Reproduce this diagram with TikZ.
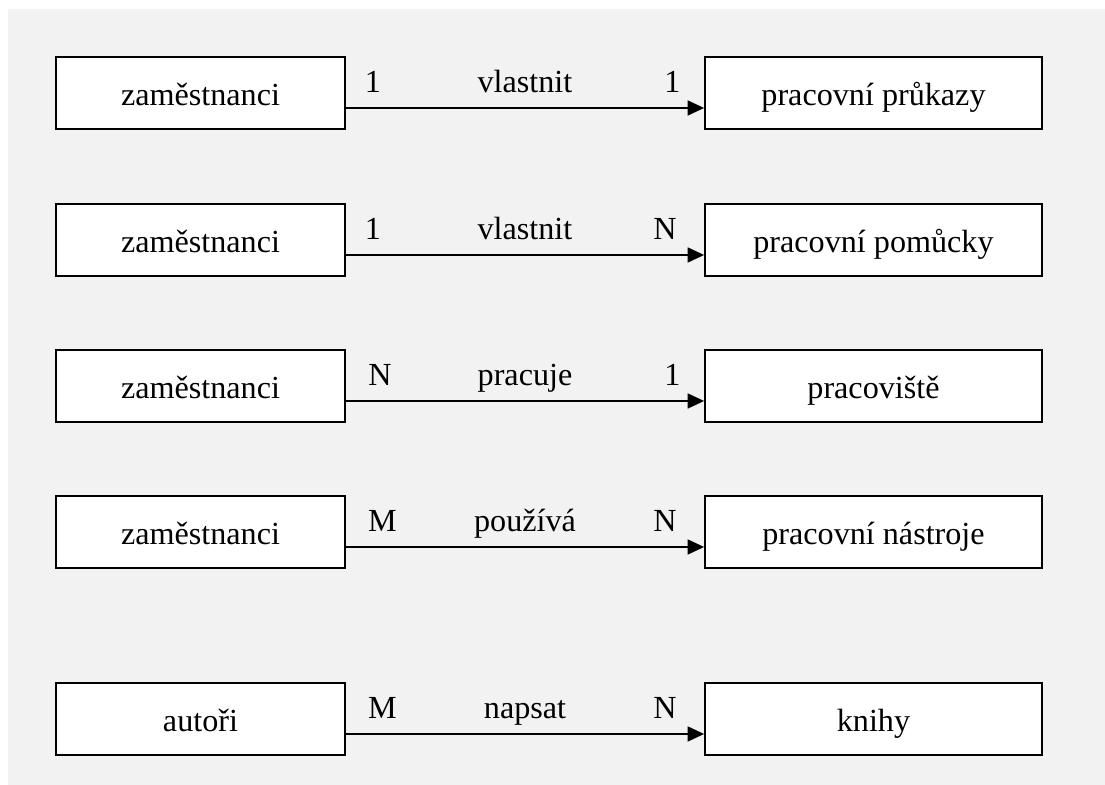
\documentclass[tikz,border=0pt]{standalone}
\usepackage{fontspec}
\setmainfont{Liberation Serif}
\usetikzlibrary{arrows.meta}
\definecolor{bggray}{HTML}{F2F2F2}
\tikzset{
  entity/.style={draw=black, line width=1pt, fill=white, minimum height=1.44cm, inner sep=0pt, text height=0.5cm, text depth=0cm, font=\fontsize{18.3}{22}\selectfont},
  leftbox/.style={entity, minimum width=5.78cm},
  rightbox/.style={entity, minimum width=6.74cm},
  card/.style={anchor=base, inner sep=0pt, font=\fontsize{18.3}{22}\selectfont},
  rel/.style={line width=1pt, -{Triangle[length=0.33cm,width=0.3cm]}}
}
\begin{document}
\begin{tikzpicture}
\useasboundingbox (0,0) rectangle (22.1,15.7);
%background
\fill[bggray] (0.16,0) rectangle (22.1,15.52);

%left boxes
\node[leftbox] (z1) at (4.01,13.84) {zaměstnanci};
\node[leftbox] (z2) at (4.01,10.9) {zaměstnanci};
\node[leftbox] (z3) at (4.01,7.98) {zaměstnanci};
\node[leftbox] (z4) at (4.01,5.06) {zaměstnanci};
\node[leftbox] (a5) at (4.01,1.32) {autoři};

%right boxes
\node[rightbox] (p1) at (17.47,13.84) {pracovní průkazy};
\node[rightbox] (p2) at (17.47,10.9) {pracovní pomůcky};
\node[rightbox] (p3) at (17.47,7.98) {pracoviště};
\node[rightbox] (p4) at (17.47,5.06) {pracovní nástroje};
\node[rightbox] (k5) at (17.47,1.32) {knihy};

%arrows
\draw[rel] ([yshift=-0.3cm]z1.east) -- ([yshift=-0.3cm]p1.west);
\draw[rel] ([yshift=-0.3cm]z2.east) -- ([yshift=-0.3cm]p2.west);
\draw[rel] ([yshift=-0.3cm]z3.east) -- ([yshift=-0.3cm]p3.west);
\draw[rel] ([yshift=-0.3cm]z4.east) -- ([yshift=-0.3cm]p4.west);
\draw[rel] ([yshift=-0.3cm]a5.east) -- ([yshift=-0.3cm]k5.west);

%relation text
\node[card] (c1l) at (7.46,13.84) {1};
\node[card] (r1) at (10.5,13.84) {vlastnit};
\node[card] (c1r) at (13.45,13.84) {1};

\node[card] (c2l) at (7.46,10.9) {1};
\node[card] (r2) at (10.5,10.9) {vlastnit};
\node[card] (c2r) at (13.3,10.9) {N};

\node[card] (c3l) at (7.6,7.98) {N};
\node[card] (r3) at (10.5,7.98) {pracuje};
\node[card] (c3r) at (13.45,7.98) {1};

\node[card] (c4l) at (7.65,5.06) {M};
\node[card] (r4) at (10.5,5.06) {používá};
\node[card] (c4r) at (13.3,5.06) {N};

\node[card] (c5l) at (7.65,1.32) {M};
\node[card] (r5) at (10.5,1.32) {napsat};
\node[card] (c5r) at (13.3,1.32) {N};

\end{tikzpicture}
\end{document}
